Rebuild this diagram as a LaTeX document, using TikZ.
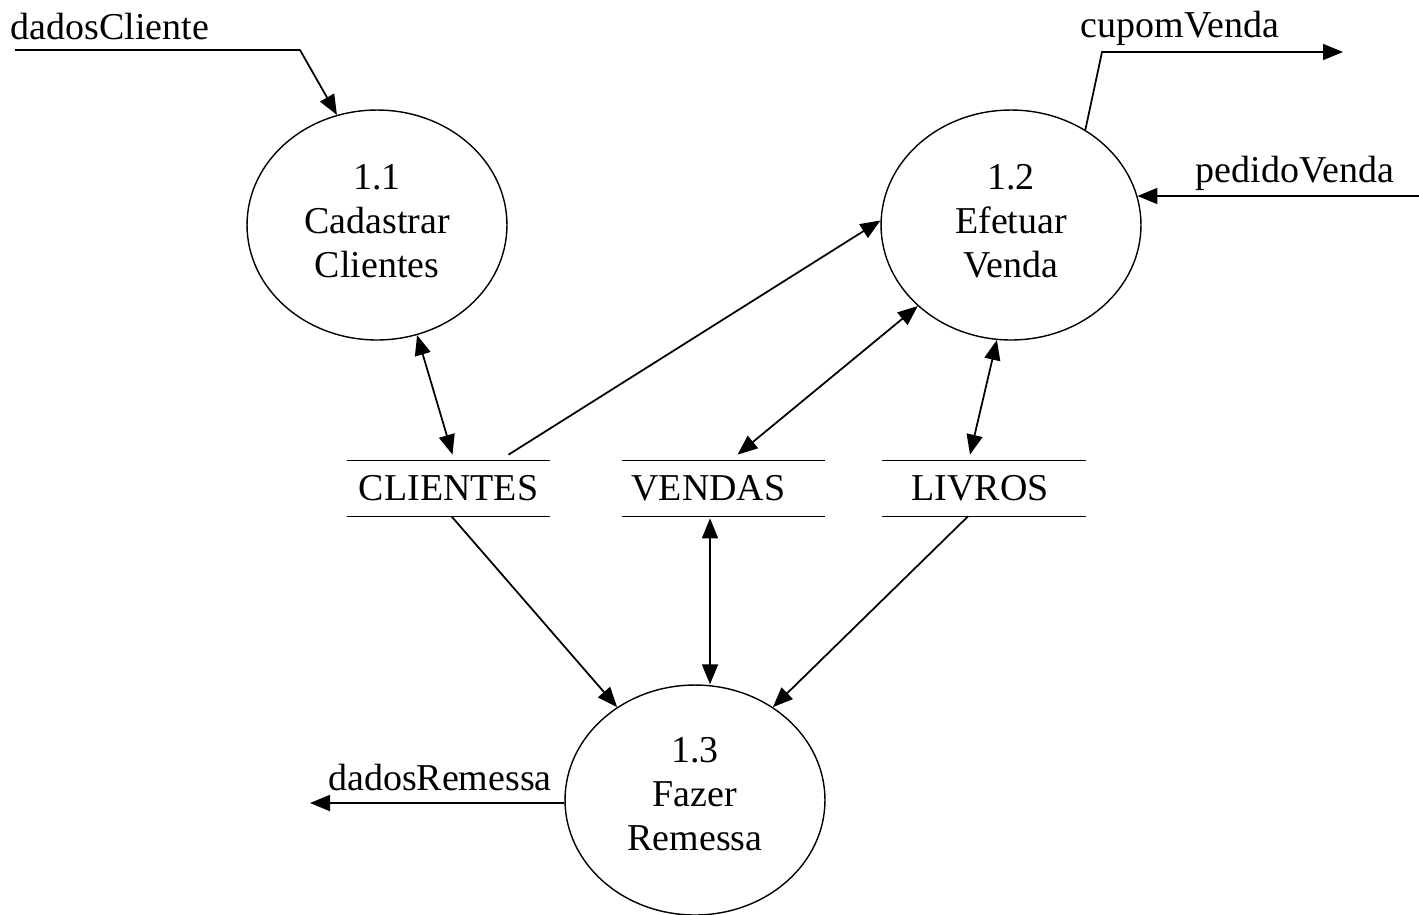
\documentclass[tikz,border=0pt]{standalone}
\usepackage{fontspec}
\setmainfont{Liberation Serif}
\usetikzlibrary{arrows.meta,shapes.geometric,calc}
\begin{document}
\begin{tikzpicture}[x=0.02cm,y=-0.02cm,
  every node/.style={font=\fontsize{21.6}{25}\selectfont},
  process/.style={ellipse,draw,line width=0.8pt,minimum width=5.2cm,minimum height=4.6cm,inner sep=0pt},
  ptext/.style={align=center,inner sep=0pt},
  store/.style={minimum width=4.06cm,minimum height=1.1cm,inner sep=0pt},
  storeline/.style={line width=0.9pt},
  flow/.style={line width=1pt,-{Triangle[length=0.4cm,width=0.32cm]}},
  dflow/.style={line width=1pt,{Triangle[length=0.4cm,width=0.32cm]}-{Triangle[length=0.4cm,width=0.32cm]}},
  lbl/.style={inner sep=0pt}]
\useasboundingbox (0,0) rectangle (1419,914);

% processes
\node[process] (c11) at (377,225) {};
\node[process] (c12) at (1011,225) {};
\node[process] (c13) at (695,800) {};
\node[ptext] (t11) at ($(c11)+(0,-4)$) {1.1\\Cadastrar\\Clientes};
\node[ptext] (t12) at ($(c12)+(0,-4)$) {1.2\\Efetuar\\Venda};
\node[ptext] (t13) at ($(c13)+(0,-6)$) {1.3\\Fazer\\Remessa};

% data stores
\node[store] (cli) at (448.5,488.5) {CLIENTES};
\node[store] (ven) at (723.5,488.5) {\kern-0.6cm VENDAS};
\node[store] (liv) at (984,488.5) {\kern-0.15cm LIVROS};
\foreach \s in {cli,ven,liv}{
  \draw[storeline] (\s.north west) -- (\s.north east);
  \draw[storeline] (\s.south west) -- (\s.south east);
}

% external flow labels
\node[lbl] (ldc) at (110,27) {dadosCliente};
\node[lbl] (lcv) at (1180,28) {cupomVenda};
\node[lbl] (lpv) at (1295,173) {pedidoVenda};
\node[lbl] (ldr) at (440,777) {dadosRemessa};

% external flow end points
\coordinate (dcin) at (15,50);
\coordinate (dcbend) at (300,50);
\coordinate (cvbend) at (1102,52);
\coordinate (cvout) at (1343,52);
\coordinate (pvin) at (1419,196);
\coordinate (drout) at (310,803);

% external flows
\draw[flow] (dcin) -- (dcbend) -- (c11.110);
\draw[flow] (c12.52) -- (cvbend) -- (cvout);
\draw[flow] (pvin) -- (c12.13 |- pvin);
\draw[flow] (c13.west |- drout) -- (drout);

% flows between processes and stores
\draw[dflow] (c11.-70) -- ($(cli.north)+(4,-6)$);
\draw[flow] ($(cli.north)+(60,-6)$) -- (c12.178);
\draw[dflow] ($(ven.north)+(14,-6)$) -- (c12.221);
\draw[dflow] ($(liv.north)+(-14,-6)$) -- (c12.263);
\draw[flow] ($(cli.south)+(3,0)$) -- (c13.130);
\draw[dflow] ($(ven.south)+(-13.5,2)$) -- ($(c13.north)+(15,0)$);
\draw[flow] ($(liv.south)+(-16,0)$) -- (c13.50);
\end{tikzpicture}
\end{document}
